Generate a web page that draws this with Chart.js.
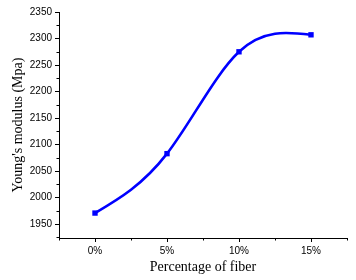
<!DOCTYPE html>
<html>
<head>
<meta charset="utf-8">
<script src="https://cdn.jsdelivr.net/npm/chart.js@4/dist/chart.umd.min.js"></script>
<style>
html,body{margin:0;padding:0;background:#fff;}
#wrap{width:356px;height:280px;position:relative;}
</style>
</head>
<body>
<div id="wrap"><canvas id="c"></canvas></div>
<script>
const fiberPct = [0, 5, 10, 15];
const youngsModulus = [1971, 2083, 2275, 2307];
const yTickValues = [1950, 2000, 2050, 2100, 2150, 2200, 2250, 2300, 2350];
const xTickValues = [0, 5, 10, 15];
const xTickLabels = ['0%', '5%', '10%', '15%'];
const yMinorValues = [1925, 1975, 2025, 2075, 2125, 2175, 2225, 2275, 2325];
const xMinorValues = [-2.5, 2.5, 7.5, 12.5, 17.5];

// natural cubic spline slopes (data space) for the data points
function naturalSplineSlopes(xs, ys) {
  const n = xs.length;
  const h = [], M = new Array(n).fill(0);
  for (let i = 0; i < n - 1; i++) h.push(xs[i + 1] - xs[i]);
  const a = [], b = [], c = [], d = [];
  for (let i = 1; i < n - 1; i++) {
    a.push(h[i - 1]);
    b.push(2 * (h[i - 1] + h[i]));
    c.push(h[i]);
    d.push(6 * ((ys[i + 1] - ys[i]) / h[i] - (ys[i] - ys[i - 1]) / h[i - 1]));
  }
  const m = b.length;
  for (let i = 1; i < m; i++) {
    const w = a[i] / b[i - 1];
    b[i] -= w * c[i - 1];
    d[i] -= w * d[i - 1];
  }
  const sol = new Array(m);
  for (let i = m - 1; i >= 0; i--) sol[i] = (d[i] - (i < m - 1 ? c[i] * sol[i + 1] : 0)) / b[i];
  for (let i = 0; i < m; i++) M[i + 1] = sol[i];
  const slopes = [];
  for (let i = 0; i < n; i++) {
    if (i < n - 1) slopes.push((ys[i + 1] - ys[i]) / h[i] - h[i] * (2 * M[i] + M[i + 1]) / 6);
    else slopes.push((ys[i] - ys[i - 1]) / h[i - 1] + h[i - 1] * (M[i - 1] + 2 * M[i]) / 6);
  }
  return slopes;
}

const splinePlugin = {
  id: 'naturalSpline',
  beforeDatasetsDraw(chart) {
    const meta = chart.getDatasetMeta(0);
    const line = meta.dataset;
    const xs = chart.scales.x, ys = chart.scales.y;
    if (line && line.updateControlPoints) line.updateControlPoints(chart.chartArea, 'x');
    const slopes = naturalSplineSlopes(fiberPct, youngsModulus);
    meta.data.forEach((pt, i) => {
      const x = fiberPct[i], y = youngsModulus[i];
      const hp = i > 0 ? (x - fiberPct[i - 1]) / 3 : 0;
      const hn = i < fiberPct.length - 1 ? (fiberPct[i + 1] - x) / 3 : 0;
      pt.cp1x = xs.getPixelForValue(x - hp);
      pt.cp1y = ys.getPixelForValue(y - slopes[i] * hp);
      pt.cp2x = xs.getPixelForValue(x + hn);
      pt.cp2y = ys.getPixelForValue(y + slopes[i] * hn);
    });
    if (line) { line._pointsUpdated = true; line._path = undefined; }
  }
};

const minorTicks = {
  id: 'minorTicks',
  afterDraw(chart) {
    const ctx = chart.ctx;
    const xs = chart.scales.x, ys = chart.scales.y;
    ctx.save();
    ctx.strokeStyle = '#000';
    ctx.lineWidth = 1;
    ctx.beginPath();
    yMinorValues.forEach(v => {
      const p = Math.round(ys.getPixelForValue(v)) + 0.5;
      ctx.moveTo(xs.left - 2.5, p);
      ctx.lineTo(xs.left, p);
    });
    xMinorValues.forEach(v => {
      const p = Math.round(xs.getPixelForValue(v)) + 0.5;
      ctx.moveTo(p, ys.bottom);
      ctx.lineTo(p, ys.bottom + 2.5);
    });
    ctx.stroke();
    ctx.restore();
  }
};

new Chart(document.getElementById('c'), {
  type: 'line',
  data: {
    datasets: [{
      data: fiberPct.map((x, i) => ({x: x, y: youngsModulus[i]})),
      borderColor: '#0000ff',
      backgroundColor: '#0000ff',
      borderWidth: 2.6,
      tension: 0.4,
      pointStyle: 'rect',
      pointRadius: 3.8,
      pointBorderWidth: 0,
      fill: false
    }]
  },
  options: {
    responsive: true,
    maintainAspectRatio: false,
    animation: false,
    layout: {padding: {top: 12, right: 9, left: 0, bottom: 0}},
    plugins: {legend: {display: false}, tooltip: {enabled: false}},
    scales: {
      x: {
        type: 'linear',
        min: -2.5,
        max: 17.5,
        afterFit: s => { s.height = 42; },
        afterBuildTicks: s => { s.ticks = xTickValues.map(v => ({value: v})); },
        ticks: {
          callback: (v) => { const i = xTickValues.indexOf(v); return i >= 0 ? xTickLabels[i] : ''; },
          color: '#000',
          font: {family: '"Liberation Sans", Arial, sans-serif', size: 10},
          padding: 3,
          maxRotation: 0
        },
        grid: {drawOnChartArea: false, tickLength: 4, color: '#000', tickColor: '#000'},
        border: {display: true, color: '#000', width: 1},
        title: {
          display: true,
          text: 'Percentage of fiber',
          color: '#000',
          font: {family: '"Liberation Serif", "Times New Roman", serif', size: 14},
          padding: {top: 3, bottom: 4}
        }
      },
      y: {
        type: 'linear',
        min: 1924,
        max: 2350,
        afterFit: s => { s.width = 59; },
        afterBuildTicks: s => { s.ticks = yTickValues.map(v => ({value: v})); },
        ticks: {
          callback: (v) => String(v),
          color: '#000',
          font: {family: '"Liberation Sans", Arial, sans-serif', size: 10},
          padding: 3
        },
        grid: {drawOnChartArea: false, tickLength: 4, color: '#000', tickColor: '#000'},
        border: {display: true, color: '#000', width: 1},
        title: {
          display: true,
          text: "Young's modulus (Mpa)",
          color: '#000',
          font: {family: '"Liberation Serif", "Times New Roman", serif', size: 14},
          padding: {top: 10, bottom: 4}
        }
      }
    }
  },
  plugins: [splinePlugin, minorTicks]
});
</script>
</body>
</html>
